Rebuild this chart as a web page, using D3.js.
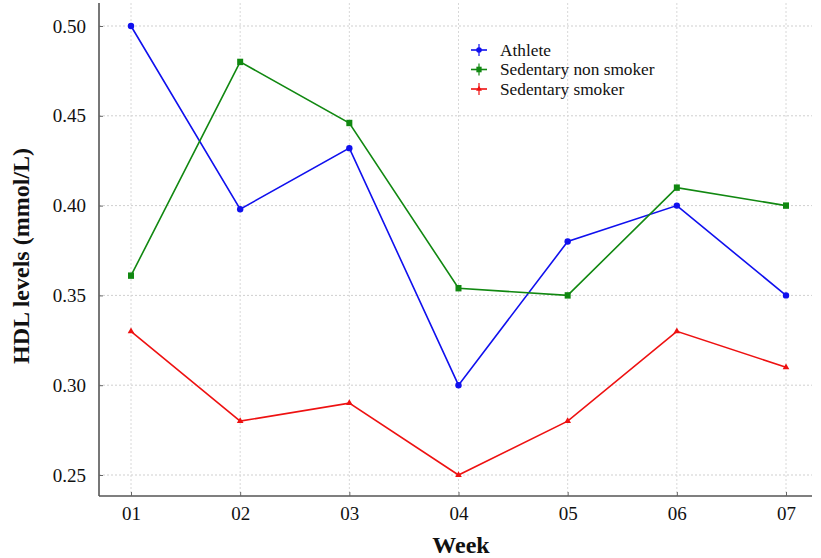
<!DOCTYPE html>
<html>
<head>
<meta charset="utf-8">
<script src="https://cdn.jsdelivr.net/npm/d3@7"></script>
<style>
  body { margin: 0; background: #fff; }
  svg { display: block; font-family: "Liberation Serif", "Times New Roman", serif; }
</style>
</head>
<body>
<svg id="chart" width="821" height="558"></svg>
<script>
// Weekly HDL levels for three groups
const weeks = ["01", "02", "03", "04", "05", "06", "07"];
const athlete = [0.50, 0.398, 0.432, 0.30, 0.38, 0.40, 0.35];
const nonSmoker = [0.361, 0.48, 0.446, 0.354, 0.35, 0.41, 0.40];
const smoker = [0.33, 0.28, 0.29, 0.25, 0.28, 0.33, 0.31];
const yTicks = [0.25, 0.30, 0.35, 0.40, 0.45, 0.50];

const seriesList = [
  { name: "Athlete", values: athlete, color: "#1010ee", marker: "circle" },
  { name: "Sedentary non smoker", values: nonSmoker, color: "#118811", marker: "square" },
  { name: "Sedentary smoker", values: smoker, color: "#ee1111", marker: "triangle" }
];

const svg = d3.select("#chart");
const plotLeft = 99, plotRight = 812, plotTop = 3, plotBottom = 496;

const x = d3.scaleLinear().domain([0, weeks.length - 1]).range([131, 786]);
const y = d3.scaleLinear().domain([0.25, 0.50]).range([475, 26]);

// Grid
const grid = svg.append("g");
grid.selectAll("line.h").data(yTicks).join("line")
  .attr("x1", plotLeft).attr("x2", plotRight)
  .attr("y1", d => y(d)).attr("y2", d => y(d))
  .attr("stroke", "#cfcfcf").attr("stroke-width", 1).attr("stroke-dasharray", "2,2");
grid.selectAll("line.v").data(weeks).join("line")
  .attr("x1", (d, i) => x(i)).attr("x2", (d, i) => x(i))
  .attr("y1", plotTop).attr("y2", plotBottom)
  .attr("stroke", "#d8d8d8").attr("stroke-width", 1).attr("stroke-dasharray", "2,2");

// Axes (ticks point into the plot)
const xAxis = d3.axisBottom(x).tickValues(d3.range(weeks.length))
  .tickFormat(i => weeks[i]).tickSizeInner(-4).tickSizeOuter(0).tickPadding(10);
const yAxis = d3.axisLeft(y).tickValues(yTicks)
  .tickFormat(d3.format(".2f")).tickSizeInner(-4).tickSizeOuter(0).tickPadding(13);

const gx = svg.append("g").attr("transform", `translate(0,${plotBottom})`).call(xAxis);
gx.select(".domain").attr("d", `M${plotLeft},0H${plotRight}`);
const gy = svg.append("g").attr("transform", `translate(${plotLeft},0)`).call(yAxis);
gy.select(".domain").attr("d", `M0,${plotTop}V${plotBottom}`);

[gx, gy].forEach(g => {
  g.select(".domain").attr("stroke", "#555").attr("stroke-width", 1.6);
  g.selectAll(".tick line").attr("stroke", "#666");
  g.selectAll(".tick text").attr("fill", "#111").attr("font-size", 19)
    .attr("font-family", "Liberation Serif, serif");
});
gx.selectAll(".tick text").attr("dy", "0.75em");

// Axis titles
svg.append("text").attr("x", 461).attr("y", 553)
  .attr("text-anchor", "middle").attr("font-weight", "bold").attr("font-size", 24)
  .attr("fill", "#111").text("Week");
svg.append("text").attr("transform", `translate(29,256) rotate(-90)`)
  .attr("text-anchor", "middle").attr("font-weight", "bold").attr("font-size", 24)
  .attr("fill", "#111").text("HDL levels (mmol/L)");

// Lines and markers
const line = d3.line().x((d, i) => x(i)).y(d => y(d));

function drawMarker(g, type, color, size) {
  if (type === "circle") {
    g.append("circle").attr("r", size * 0.8).attr("fill", color);
  } else if (type === "square") {
    g.append("rect").attr("x", -size * 0.75).attr("y", -size * 0.8)
      .attr("width", size * 1.5).attr("height", size * 1.6).attr("fill", color);
  } else {
    g.append("path").attr("d", d3.symbol(d3.symbolTriangle, size * size * 1.2)()).attr("fill", color);
  }
}

seriesList.forEach(s => {
  svg.append("path").datum(s.values).attr("d", line)
    .attr("fill", "none").attr("stroke", s.color).attr("stroke-width", 1.6);
  s.values.forEach((v, i) => {
    const g = svg.append("g").attr("transform", `translate(${x(i)},${y(v)})`);
    drawMarker(g, s.marker, s.color, 4);
  });
});

// Legend
const legend = svg.append("g").attr("transform", "translate(479,50)");
seriesList.forEach((s, i) => {
  const g = legend.append("g").attr("transform", `translate(0,${i * 19.5})`);
  g.append("line").attr("x1", -8).attr("x2", 8).attr("y1", 0).attr("y2", 0)
    .attr("stroke", s.color).attr("stroke-width", 1.6);
  g.append("line").attr("x1", 0).attr("x2", 0).attr("y1", -6).attr("y2", 6)
    .attr("stroke", s.color).attr("stroke-width", 1.2);
  const m = g.append("g");
  drawMarker(m, s.marker, s.color, 3.5);
  g.append("text").attr("x", 21).attr("y", 5.5).attr("font-size", 17.3)
    .attr("fill", "#111").text(s.name);
});
</script>
</body>
</html>
